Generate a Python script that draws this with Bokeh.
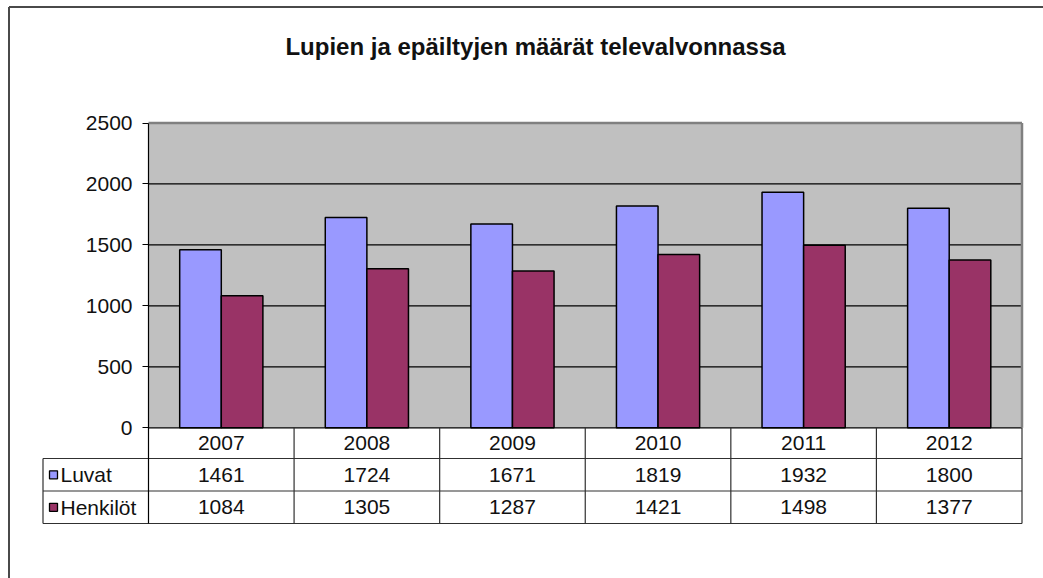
from bokeh.plotting import figure
from bokeh.models import Range1d, FixedTicker, LinearAxis
from bokeh.core.properties import value
from bokeh.embed import file_html
from bokeh.resources import INLINE

# ---------------- data ----------------
years = ["2007", "2008", "2009", "2010", "2011", "2012"]
luvat = [1461, 1724, 1671, 1819, 1932, 1800]
henkilot = [1084, 1305, 1287, 1421, 1498, 1377]
series_names = ["Luvat", "Henkilöt"]
series_colors = ["#9999FF", "#993366"]
y_ticks = [0, 500, 1000, 1500, 2000, 2500]
title_text = "Lupien ja epäiltyjen määrät televalvonnassa"

# ---------------- layout (canvas pixels) ----------------
W, H = 1043, 578
X0, X6 = 148.0, 1021.5      # plot area left / right
Y0, YTOP = 427.3, 122.5     # value 0 / value 2500
NCAT = len(years)
YMAX = y_ticks[-1]
FONT = "Liberation Sans"
TXT = "#111111"
LINE = "#303030"


def dx(px):
    return (px - X0) * NCAT / (X6 - X0)


def dy(py):
    return (Y0 - py) * YMAX / (Y0 - YTOP)


p = figure(width=W, height=H, output_backend="svg", toolbar_location=None,
           x_range=Range1d(dx(0), dx(W)), y_range=Range1d(dy(H), dy(0)),
           x_axis_type=None, y_axis_type=None,
           min_border=0, title=None)
p.outline_line_color = None
p.background_fill_color = "white"
p.border_fill_color = "white"

TB = dy(523)          # table bottom
ROW1, ROW2 = dy(458), dy(490.5)

# value axis pinned at the plot-area's left edge
ax = LinearAxis(fixed_location=0, bounds=(TB, YMAX), ticker=FixedTicker(ticks=y_ticks))
ax.major_tick_out = 6
ax.major_tick_in = 0
ax.minor_tick_out = 0
ax.minor_tick_in = 0
ax.axis_line_color = "black"
ax.axis_line_width = 1.2
ax.major_tick_line_color = "black"
ax.major_label_standoff = 10
ax.major_label_text_font = FONT
ax.major_label_text_font_size = "21px"
ax.major_label_text_color = TXT
p.add_layout(ax, "left")

# gray plot area
p.quad(left=[0], right=[NCAT], bottom=[0], top=[YMAX], fill_color="#C0C0C0", line_color=None)
# horizontal grid lines
gl = y_ticks[:-1]
p.segment(x0=[0] * len(gl), x1=[NCAT] * len(gl), y0=gl, y1=gl, line_color="black", line_width=1.2)
# plot-area border (top & right, gray)
p.segment(x0=[0, NCAT], y0=[YMAX, 0], x1=[NCAT, NCAT], y1=[YMAX, YMAX],
          line_color="#808080", line_width=2.5)

# bars
bw = 1 / 3.5
centers = [i + 0.5 for i in range(NCAT)]
for k, (vals, col) in enumerate(zip([luvat, henkilot], series_colors)):
    xs = [c + (k - 0.5) * bw for c in centers]
    p.vbar(x=xs, top=vals, bottom=0, width=bw, fill_color=col,
           line_color="black", line_width=1.5)

# data table
LC = dx(42.5)   # label column left
p.segment(x0=[LC] * 3, x1=[NCAT] * 3, y0=[ROW1, ROW2, TB], y1=[ROW1, ROW2, TB],
          line_color=LINE, line_width=1.2)
vx = list(range(1, NCAT + 1))
p.segment(x0=vx, x1=vx, y0=[0] * NCAT, y1=[TB] * NCAT, line_color=LINE, line_width=1.2)
p.segment(x0=[LC], x1=[LC], y0=[ROW1], y1=[TB], line_color=LINE, line_width=1.2)

row_px = [442.5, 474.3, 506.8]
row_centers = [dy(v) for v in row_px]
for yc, texts in zip(row_centers, [years, [str(v) for v in luvat], [str(v) for v in henkilot]]):
    p.text(x=centers, y=[yc] * NCAT, text=texts, text_align="center",
           text_baseline="middle", text_font=value(FONT),
           text_font_size=value("21px"), text_color=TXT)

# row labels with legend keys
for name, col, cy in zip(series_names, series_colors, row_px[1:]):
    p.quad(left=[dx(49)], right=[dx(57)], top=[dy(cy - 4)], bottom=[dy(cy + 4)],
           fill_color=col, line_color="black", line_width=1.3)
    p.text(x=[dx(60)], y=[dy(cy)], text=[name], text_align="left",
           text_baseline="middle", text_font=value(FONT),
           text_font_size=value("21px"), text_color=TXT)

# title
p.text(x=[dx(535)], y=[dy(46)], text=[title_text], text_align="center",
       text_baseline="middle", text_font=value(FONT), text_font_style="bold",
       text_font_size=value("24px"), text_color=TXT)

# outer chart border (left & top visible)
p.segment(x0=[dx(8.5), dx(8.5)], y0=[dy(6.5), dy(6.5)], x1=[dx(8.5), dx(1100)],
          y1=[dy(700), dy(6.5)], line_color="#4a4a4a", line_width=2)

open("out.html", "w").write(file_html(p, INLINE))
